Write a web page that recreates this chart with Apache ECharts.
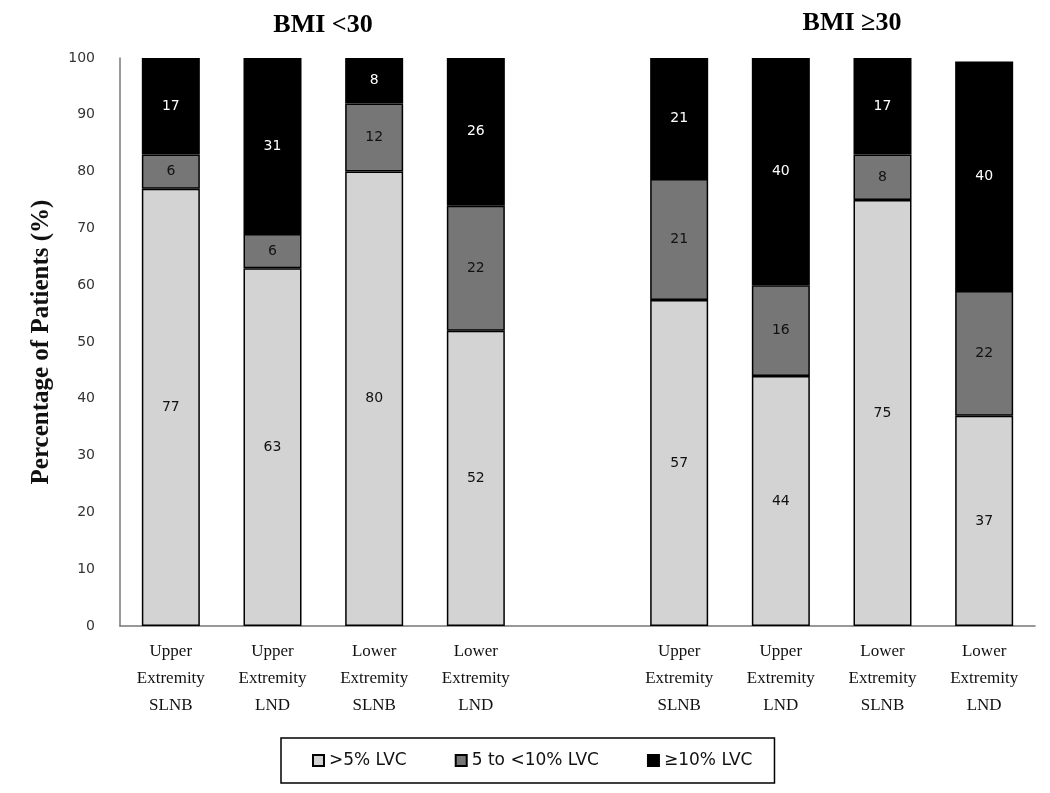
<!DOCTYPE html>
<html>
<head>
<meta charset="utf-8">
<script src="https://cdn.jsdelivr.net/npm/echarts@6/dist/echarts.min.js"></script>
<style>html,body{margin:0;padding:0;background:#fff}#c{width:1050px;height:793px}</style>
</head>
<body>
<div id="c"></div>
<script>
var categories = ['Upper\nExtremity\nSLNB','Upper\nExtremity\nLND','Lower\nExtremity\nSLNB','Lower\nExtremity\nLND','',
                  'Upper\nExtremity\nSLNB','Upper\nExtremity\nLND','Lower\nExtremity\nSLNB','Lower\nExtremity\nLND'];
var seriesNames = ['>5% LVC','5 to <10% LVC','\u226510% LVC'];
var low  = [77, 63, 80, 52, null, 57.4, 44, 75, 37];
var mid  = [6, 6, 12, 22, null, 21.3, 16, 8, 22];
var high = [17, 31, 8, 26, null, 21.3, 40, 17, 40.4];
var groupTitles = ['BMI <30', 'BMI \u226530'];
var yTicks = {min: 0, max: 100, interval: 10};

var chart = echarts.init(document.getElementById('c'));
function lbl(color){
  return {show: true, position: 'inside', color: color, fontFamily: 'DejaVu Sans', fontSize: 14,
          formatter: function(p){ return p.value == null ? '' : Math.round(p.value); }};
}
var colors = ['#d3d3d3', '#767676', '#000000'];
var labelColors = ['#111', '#111', '#fff'];
var datas = [low, mid, high];
var series = datas.map(function(d, i){
  return {
    name: seriesNames[i], type: 'bar', stack: 'a', data: d, barWidth: 58,
    itemStyle: {color: colors[i], borderColor: '#000', borderWidth: 1.5},
    label: lbl(labelColors[i])
  };
});
chart.setOption({
  animation: false,
  backgroundColor: '#fff',
  title: [
    {text: groupTitles[0], left: 318, top: 7, textAlign: 'center',
     textStyle: {fontFamily: 'Liberation Serif', fontWeight: 'bold', fontSize: 26, color: '#000'}},
    {text: groupTitles[1], left: 847, top: 5, textAlign: 'center',
     textStyle: {fontFamily: 'Liberation Serif', fontWeight: 'bold', fontSize: 26, color: '#000'}}
  ],
  grid: {left: 120, right: 15, top: 58, bottom: 167, containLabel: false},
  legend: {
    data: seriesNames, left: 281, top: 738, orient: 'horizontal',
    padding: [14, 22, 14, 31], borderColor: '#000', borderWidth: 1.5,
    itemWidth: 11, itemHeight: 11, itemGap: 48, icon: 'rect',
    textStyle: {fontFamily: 'DejaVu Sans', fontSize: 17, color: '#111'}
  },
  xAxis: {
    type: 'category', data: categories,
    axisLine: {lineStyle: {color: '#777', width: 1.5}},
    axisTick: {show: false},
    axisLabel: {interval: 0, margin: 12, fontFamily: 'Liberation Serif', fontSize: 17, lineHeight: 27, color: '#111'}
  },
  yAxis: {
    type: 'value', min: yTicks.min, max: yTicks.max, interval: yTicks.interval,
    name: 'Percentage of Patients (%)', nameLocation: 'middle', nameGap: 66, nameRotate: 90,
    nameTextStyle: {fontFamily: 'Liberation Serif', fontWeight: 'bold', fontSize: 25, color: '#111'},
    axisLine: {show: true, lineStyle: {color: '#777', width: 1.5}},
    axisTick: {show: false},
    splitLine: {show: false},
    axisLabel: {margin: 25, fontFamily: 'DejaVu Sans', fontSize: 14, color: '#333'}
  },
  series: series
});
</script>
</body>
</html>
